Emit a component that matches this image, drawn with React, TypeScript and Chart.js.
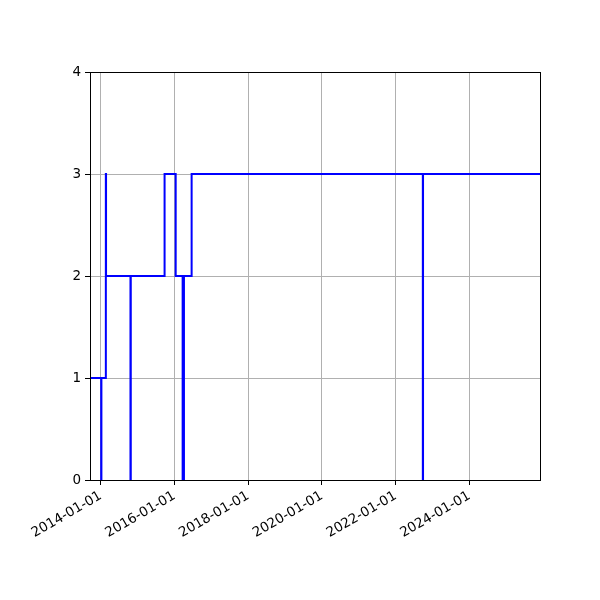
import { useEffect, useRef } from "react";
import { Chart, registerables } from "chart.js";

Chart.register(...registerables);

// step points (value holds until the next date)
const stepDates = [
  "2013-09-16",
  "2014-01-05",
  "2014-01-07",
  "2014-02-20",
  "2014-02-22",
  "2014-10-22",
  "2014-10-25",
  "2015-09-25",
  "2016-01-13",
  "2016-03-22",
  "2016-04-04",
  "2016-06-19",
  "2022-09-27",
  "2022-09-29",
  "2025-12-01",
];
const stepValues = [1, 0, 1, 3, 2, 0, 2, 3, 2, 0, 2, 3, 0, 3, 3];

const xTickDates = ["2014-01-01", "2016-01-01", "2018-01-01", "2020-01-01", "2022-01-01", "2024-01-01"];
const yTicks = [0, 1, 2, 3, 4];
const xStart = "2013-09-16";
const xEnd = "2025-12-01";

const toMs = (d: string) => Date.parse(d + "T00:00:00Z");

const tickFont = { family: "'DejaVu Sans', sans-serif", size: 13.5 };

// snap to the same half pixel chart.js uses for 1px lines
const crisp = (p: number) => Math.round(p - 0.5) + 0.5;

const framePlugin = {
  id: "frame",
  afterDatasetsDraw(chart: Chart) {
    const { ctx, chartArea } = chart;
    const l = crisp(chartArea.left);
    const t = crisp(chartArea.top);
    const r = crisp(chartArea.right);
    const b = crisp(chartArea.bottom);
    ctx.save();
    ctx.strokeStyle = "#000";
    ctx.lineWidth = 1;
    ctx.strokeRect(l, t, r - l, b - t);
    ctx.restore();
  },
};

export default function App() {
  const canvasRef = useRef<HTMLCanvasElement>(null);
  const chartRef = useRef<Chart | null>(null);

  useEffect(() => {
    if (!canvasRef.current) return;
    chartRef.current?.destroy();

    const points = stepDates.map((d, i) => ({ x: toMs(d), y: stepValues[i] }));

    chartRef.current = new Chart(canvasRef.current, {
      type: "line",
      data: {
        datasets: [
          {
            data: points,
            borderColor: "#0000ff",
            borderWidth: 2,
            pointRadius: 0,
            // chart.js "before": keep previous value, jump at the next x
            stepped: "before",
            fill: false,
          },
        ],
      },
      options: {
        responsive: true,
        maintainAspectRatio: false,
        animation: false,
        layout: { padding: { left: 0, top: 72, right: 60, bottom: 0 } },
        plugins: {
          legend: { display: false },
          tooltip: { enabled: false },
        },
        scales: {
          x: {
            type: "linear",
            min: toMs(xStart),
            max: toMs(xEnd),
            afterBuildTicks: (scale: any) => {
              scale.ticks = xTickDates.map((d) => ({ value: toMs(d) }));
            },
            afterFit: (scale: any) => {
              scale.height = 120;
            },
            ticks: {
              callback: (v: any) => new Date(Number(v)).toISOString().slice(0, 10),
              minRotation: 30,
              maxRotation: 30,
              autoSkip: false,
              color: "#000",
              font: tickFont,
              padding: 3,
            },
            grid: { color: "#b0b0b0", lineWidth: 1, tickLength: 5, tickColor: "#000", tickWidth: 1 },
            border: { display: false },
          },
          y: {
            type: "linear",
            min: yTicks[0],
            max: yTicks[yTicks.length - 1],
            afterBuildTicks: (scale: any) => {
              scale.ticks = yTicks.map((v) => ({ value: v }));
            },
            afterFit: (scale: any) => {
              scale.width = 90;
            },
            ticks: { color: "#000", font: tickFont, padding: 4 },
            grid: { color: "#b0b0b0", lineWidth: 1, tickLength: 5, tickColor: "#000", tickWidth: 1 },
            border: { display: false },
          },
        },
      },
      plugins: [framePlugin],
    });

    return () => {
      chartRef.current?.destroy();
      chartRef.current = null;
    };
  }, []);

  return (
    <div style={{ position: "fixed", left: 0, top: 0, width: 600, height: 600, background: "#fff" }}>
      <canvas ref={canvasRef} />
    </div>
  );
}
